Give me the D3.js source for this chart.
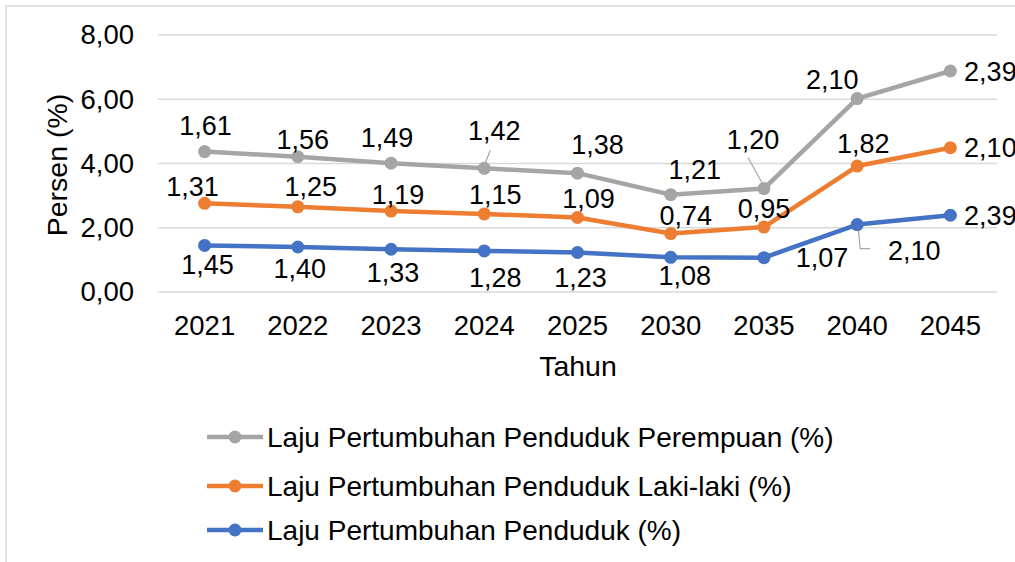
<!DOCTYPE html>
<html>
<head>
<meta charset="utf-8">
<script src="https://cdn.jsdelivr.net/npm/d3@7"></script>
<style>
  body { margin: 0; background: #fff; }
  text { font-family: "Liberation Sans", Arial, sans-serif; fill: #000; }
</style>
</head>
<body>
<div id="my_dataviz"></div>
<script>
// data
var years = ["2021","2022","2023","2024","2025","2030","2035","2040","2045"];
var total = [1.45, 1.40, 1.33, 1.28, 1.23, 1.08, 1.07, 2.10, 2.39];
var male = [1.31, 1.25, 1.19, 1.15, 1.09, 0.74, 0.95, 1.82, 2.10];
var female = [1.61, 1.56, 1.49, 1.42, 1.38, 1.21, 1.20, 2.10, 2.39];
var yTicks = [0, 2, 4, 6, 8];

// label offsets from the point (px), roughly as Excel placed them
var offTotal = [[3,19],[2,21],[2,23],[11,26],[3,25],[14,18],[58,0],[57,26],[40,0]];
var offMale = [[-12,-17],[13,-21],[7,-17],[11,-20],[11,-19],[15,-18],[0,-19],[6,-23],[40,0]];
var offFemale = [[1,-26],[5,-17],[-4,-26],[10,-38],[20,-29],[24,-25],[-11,-49],[-25,-19],[40,0]];

var width = 1015, height = 562;
var margin = {top: 35, left: 158, right: 18};
var plotBottom = 292;

var svg = d3.select("#my_dataviz")
  .append("svg")
    .attr("width", width)
    .attr("height", height);

// chart border
svg.append("rect")
  .attr("x", 6).attr("y", 6)
  .attr("width", width + 20).attr("height", height + 20)
  .attr("fill", "none")
  .attr("stroke", "#d9d9d9")
  .attr("stroke-width", 1.5);

var x = d3.scaleBand().domain(years).range([margin.left, width - margin.right]);
var y = d3.scaleLinear().domain([0, 8]).range([plotBottom, margin.top]);

// gridlines
svg.append("g")
  .selectAll("line")
  .data(yTicks)
  .join("line")
    .attr("x1", margin.left)
    .attr("x2", width - margin.right)
    .attr("y1", d => y(d))
    .attr("y2", d => y(d))
    .attr("stroke", "#d9d9d9")
    .attr("stroke-width", 1.5);

// y axis labels
var fmt = d => d.toFixed(2).replace(".", ",");
var yAxis = svg.append("g")
  .attr("transform", "translate(" + (margin.left - 24) + ",0)")
  .call(d3.axisLeft(y).tickValues(yTicks).tickFormat(fmt).tickSize(0).tickPadding(0));
yAxis.select(".domain").remove();
yAxis.selectAll("text")
  .style("font-size", "27.5px")
  .style("font-family", "Liberation Sans, Arial, sans-serif")
  .attr("fill", "#000");

// x axis labels
var xAxis = svg.append("g")
  .attr("transform", "translate(0," + (plotBottom + 23) + ")")
  .call(d3.axisBottom(x).tickSize(0).tickPadding(0));
xAxis.select(".domain").remove();
xAxis.selectAll("text")
  .style("font-size", "27.5px")
  .style("font-family", "Liberation Sans, Arial, sans-serif")
  .attr("fill", "#000");

// axis titles
svg.append("text")
  .attr("x", 578).attr("y", 376)
  .attr("text-anchor", "middle")
  .style("font-size", "28.5px")
  .text("Tahun");

svg.append("text")
  .attr("transform", "translate(67,165) rotate(-90)")
  .attr("text-anchor", "middle")
  .style("font-size", "28.5px")
  .text("Persen (%)");

// stacked series
var stackTotal = total.slice();
var stackMale = male.map((v, i) => v + total[i]);
var stackFemale = female.map((v, i) => v + stackMale[i]);

var series = [
  {name: "Laju Pertumbuhan Penduduk Perempuan (%)", color: "#A5A5A5", vals: female, tops: stackFemale, off: offFemale},
  {name: "Laju Pertumbuhan Penduduk Laki-laki (%)", color: "#ED7D31", vals: male, tops: stackMale, off: offMale},
  {name: "Laju Pertumbuhan Penduduk (%)", color: "#4472C4", vals: total, tops: stackTotal, off: offTotal}
];

var cx = d => x(d) + x.bandwidth() / 2;

var lineGen = d3.line()
  .x(d => cx(d.year))
  .y(d => y(d.top));

// leader lines (relative to the point)
var leaders = [
  {s: 0, i: 3, pts: [[6,-18],[1,-5]]},
  {s: 0, i: 6, pts: [[-16,-31],[-2,-6]]},
  {s: 2, i: 7, pts: [[1,3],[3,24],[13,24]]}
];

leaders.forEach(function(l) {
  var s = series[l.s];
  var px = cx(years[l.i]), py = y(s.tops[l.i]);
  svg.append("path")
    .attr("d", d3.line()(l.pts.map(p => [px + p[0], py + p[1]])))
    .attr("fill", "none")
    .attr("stroke", "#a6a6a6")
    .attr("stroke-width", 1.2);
});

series.forEach(function(s) {
  var pts = years.map((yr, i) => ({year: yr, top: s.tops[i], val: s.vals[i], off: s.off[i]}));
  svg.append("path")
    .datum(pts)
    .attr("fill", "none")
    .attr("stroke", s.color)
    .attr("stroke-width", 4.5)
    .attr("stroke-linejoin", "round")
    .attr("d", lineGen);
  svg.append("g")
    .selectAll("circle")
    .data(pts)
    .join("circle")
      .attr("cx", d => cx(d.year))
      .attr("cy", d => y(d.top))
      .attr("r", 6.5)
      .attr("fill", s.color);
  svg.append("g")
    .selectAll("text")
    .data(pts)
    .join("text")
      .attr("x", d => cx(d.year) + d.off[0])
      .attr("y", d => y(d.top) + d.off[1])
      .attr("dy", "0.36em")
      .attr("text-anchor", "middle")
      .style("font-size", "27px")
      .text(d => fmt(d.val));
});

// legend
var legendY = [437, 486, 530];
series.forEach(function(s, i) {
  var g = svg.append("g").attr("transform", "translate(0," + legendY[i] + ")");
  g.append("line")
    .attr("x1", 207).attr("x2", 263)
    .attr("stroke", s.color)
    .attr("stroke-width", 4.5);
  g.append("circle")
    .attr("cx", 235).attr("r", 6.5)
    .attr("fill", s.color);
  g.append("text")
    .attr("x", 267).attr("dy", "0.36em")
    .style("font-size", "28px")
    .text(s.name);
});
</script>
</body>
</html>
